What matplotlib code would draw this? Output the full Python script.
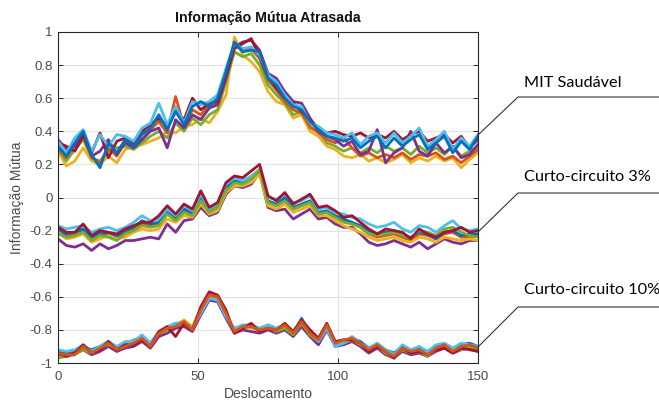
import numpy as np
import matplotlib
matplotlib.use("Agg")
import matplotlib.pyplot as plt
from matplotlib.lines import Line2D

plt.rcParams["font.family"] = ["Liberation Sans", "DejaVu Sans"]

# ---------------- data ----------------
shift = list(range(0, 151, 3))

# MATLAB default colour order
c_blue, c_orange, c_yellow = "#0072BD", "#D95319", "#EDB120"
c_purple, c_green, c_lblue, c_dred = "#7E2F8E", "#77AC30", "#4DBEEE", "#A2142F"

# Group 1: MIT Saudável
h_yellow = [0.28, 0.19, 0.22, 0.30, 0.22, 0.20, 0.25, 0.21, 0.29, 0.31,
            0.32, 0.34, 0.36, 0.40, 0.39, 0.43, 0.44, 0.48, 0.45, 0.52,
            0.62, 0.97, 0.86, 0.82, 0.76, 0.64, 0.58, 0.56, 0.48, 0.50,
            0.40, 0.37, 0.31, 0.29, 0.25, 0.24, 0.26, 0.22, 0.24, 0.21,
            0.23, 0.26, 0.21, 0.24, 0.22, 0.25, 0.22, 0.24, 0.18, 0.23,
            0.27]
h_green = [0.29, 0.22, 0.29, 0.35, 0.24, 0.22, 0.28, 0.30, 0.31, 0.29,
           0.33, 0.37, 0.40, 0.36, 0.45, 0.40, 0.48, 0.44, 0.50, 0.53,
           0.70, 0.88, 0.85, 0.87, 0.80, 0.68, 0.62, 0.57, 0.50, 0.52,
           0.42, 0.40, 0.33, 0.31, 0.28, 0.30, 0.27, 0.30, 0.27, 0.31,
           0.28, 0.30, 0.26, 0.31, 0.27, 0.30, 0.26, 0.31, 0.25, 0.28,
           0.31]
h_orange = [0.30, 0.24, 0.32, 0.39, 0.24, 0.21, 0.30, 0.25, 0.34, 0.32,
            0.35, 0.41, 0.46, 0.39, 0.61, 0.43, 0.53, 0.50, 0.56, 0.57,
            0.74, 0.92, 0.89, 0.90, 0.84, 0.71, 0.65, 0.58, 0.53, 0.51,
            0.43, 0.39, 0.35, 0.33, 0.36, 0.30, 0.25, 0.27, 0.24, 0.26,
            0.24, 0.27, 0.23, 0.26, 0.25, 0.27, 0.23, 0.25, 0.21, 0.25,
            0.29]
h_purple = [0.35, 0.29, 0.31, 0.38, 0.25, 0.28, 0.35, 0.26, 0.33, 0.30,
            0.35, 0.40, 0.42, 0.30, 0.47, 0.42, 0.50, 0.47, 0.54, 0.56,
            0.72, 0.91, 0.94, 0.95, 0.89, 0.75, 0.72, 0.64, 0.58, 0.57,
            0.48, 0.40, 0.37, 0.35, 0.31, 0.34, 0.26, 0.28, 0.41, 0.21,
            0.27, 0.30, 0.40, 0.28, 0.25, 0.33, 0.27, 0.31, 0.24, 0.26,
            0.32]
h_dred = [0.33, 0.31, 0.28, 0.37, 0.27, 0.39, 0.24, 0.34, 0.36, 0.33,
          0.40, 0.44, 0.48, 0.43, 0.52, 0.47, 0.60, 0.53, 0.57, 0.58,
          0.74, 0.90, 0.93, 0.96, 0.85, 0.73, 0.66, 0.60, 0.57, 0.52,
          0.47, 0.42, 0.39, 0.40, 0.38, 0.37, 0.39, 0.36, 0.38, 0.36,
          0.40, 0.35, 0.38, 0.40, 0.34, 0.36, 0.38, 0.33, 0.37, 0.30,
          0.35]
h_lblue = [0.34, 0.27, 0.36, 0.41, 0.28, 0.38, 0.31, 0.38, 0.37, 0.34,
           0.42, 0.45, 0.57, 0.44, 0.55, 0.45, 0.58, 0.56, 0.58, 0.62,
           0.78, 0.93, 0.90, 0.91, 0.86, 0.74, 0.70, 0.62, 0.56, 0.55,
           0.45, 0.43, 0.39, 0.38, 0.36, 0.39, 0.32, 0.37, 0.39, 0.33,
           0.39, 0.33, 0.37, 0.42, 0.31, 0.35, 0.40, 0.29, 0.36, 0.31,
           0.38]
h_blue = [0.31, 0.25, 0.33, 0.40, 0.26, 0.18, 0.33, 0.27, 0.35, 0.31,
          0.38, 0.42, 0.50, 0.41, 0.52, 0.44, 0.55, 0.58, 0.55, 0.60,
          0.76, 0.94, 0.88, 0.89, 0.88, 0.72, 0.68, 0.60, 0.55, 0.53,
          0.46, 0.41, 0.37, 0.36, 0.34, 0.36, 0.30, 0.34, 0.37, 0.30,
          0.36, 0.31, 0.35, 0.38, 0.29, 0.33, 0.37, 0.27, 0.34, 0.29,
          0.37]

# Group 2: Curto-circuito 3%
s3_purple = [-0.25, -0.29, -0.30, -0.28, -0.32, -0.28, -0.31, -0.29, -0.26, -0.26,
             -0.25, -0.24, -0.25, -0.16, -0.21, -0.14, -0.13, -0.06, -0.11, -0.09,
             0.02, 0.07, 0.06, 0.08, 0.15, -0.06, -0.08, -0.07, -0.13, -0.10,
             -0.07, -0.13, -0.12, -0.16, -0.18, -0.18, -0.22, -0.27, -0.29, -0.28,
             -0.26, -0.28, -0.30, -0.27, -0.31, -0.28, -0.25, -0.27, -0.28, -0.26,
             -0.26]
s3_orange = [-0.20, -0.23, -0.22, -0.20, -0.25, -0.22, -0.23, -0.24, -0.21, -0.19,
             -0.16, -0.17, -0.16, -0.10, -0.13, -0.08, -0.10, -0.01, -0.08, -0.06,
             0.05, 0.09, 0.09, 0.11, 0.15, -0.03, -0.05, -0.02, -0.07, -0.05,
             -0.03, -0.10, -0.09, -0.12, -0.14, -0.16, -0.18, -0.22, -0.24, -0.23,
             -0.22, -0.24, -0.26, -0.22, -0.23, -0.25, -0.22, -0.21, -0.24, -0.24,
             -0.23]
s3_blue = [-0.20, -0.22, -0.21, -0.19, -0.24, -0.21, -0.22, -0.23, -0.20, -0.18,
           -0.14, -0.16, -0.15, -0.08, -0.12, -0.07, -0.09, 0.00, -0.08, -0.05,
           0.06, 0.10, 0.09, 0.12, 0.16, -0.02, -0.04, 0.00, -0.06, -0.04,
           -0.02, -0.09, -0.08, -0.11, -0.13, -0.15, -0.17, -0.20, -0.22, -0.21,
           -0.20, -0.23, -0.24, -0.21, -0.22, -0.25, -0.21, -0.20, -0.23, -0.22,
           -0.22]
s3_yellow = [-0.21, -0.25, -0.24, -0.22, -0.27, -0.25, -0.23, -0.25, -0.24, -0.21,
             -0.19, -0.20, -0.19, -0.13, -0.15, -0.11, -0.12, -0.04, -0.10, -0.08,
             0.03, 0.07, 0.07, 0.09, 0.14, -0.05, -0.07, -0.04, -0.09, -0.07,
             -0.05, -0.11, -0.11, -0.14, -0.17, -0.19, -0.21, -0.24, -0.26, -0.25,
             -0.24, -0.26, -0.27, -0.24, -0.25, -0.27, -0.24, -0.25, -0.26, -0.25,
             -0.26]
s3_lblue = [-0.17, -0.19, -0.18, -0.17, -0.21, -0.19, -0.18, -0.20, -0.18, -0.15,
            -0.11, -0.14, -0.13, -0.07, -0.11, -0.05, -0.08, 0.02, -0.07, -0.04,
            0.08, 0.12, 0.10, 0.13, 0.17, 0.00, -0.01, 0.02, -0.03, -0.02,
            0.01, -0.07, -0.06, -0.09, -0.10, -0.12, -0.13, -0.16, -0.18, -0.17,
            -0.15, -0.19, -0.21, -0.17, -0.18, -0.21, -0.17, -0.14, -0.19, -0.20,
            -0.19]
s3_green = [-0.22, -0.24, -0.23, -0.21, -0.26, -0.23, -0.24, -0.26, -0.22, -0.20,
            -0.17, -0.18, -0.17, -0.10, -0.14, -0.09, -0.11, -0.02, -0.09, -0.06,
            0.04, 0.09, 0.08, 0.11, 0.17, -0.03, -0.05, -0.02, -0.07, -0.05,
            -0.03, -0.10, -0.09, -0.12, -0.15, -0.16, -0.18, -0.22, -0.23, -0.22,
            -0.21, -0.23, -0.25, -0.20, -0.21, -0.23, -0.19, -0.18, -0.21, -0.23,
            -0.24]
s3_dred = [-0.18, -0.21, -0.21, -0.16, -0.23, -0.20, -0.21, -0.22, -0.19, -0.17,
           -0.15, -0.15, -0.11, -0.05, -0.10, -0.04, -0.07, 0.04, -0.06, -0.03,
           0.09, 0.13, 0.12, 0.16, 0.20, 0.01, -0.02, 0.03, -0.04, -0.01,
           0.02, -0.06, -0.05, -0.08, -0.12, -0.11, -0.15, -0.19, -0.22, -0.19,
           -0.20, -0.21, -0.25, -0.19, -0.22, -0.24, -0.21, -0.20, -0.18, -0.21,
           -0.20]

# Group 3: Curto-circuito 10%
s10_blue = [-0.93, -0.94, -0.93, -0.90, -0.92, -0.90, -0.87, -0.91, -0.88, -0.87,
            -0.84, -0.88, -0.82, -0.79, -0.76, -0.76, -0.80, -0.70, -0.60, -0.61,
            -0.71, -0.80, -0.78, -0.77, -0.80, -0.78, -0.80, -0.78, -0.82, -0.73,
            -0.82, -0.86, -0.78, -0.89, -0.87, -0.85, -0.87, -0.91, -0.89, -0.92,
            -0.94, -0.90, -0.92, -0.91, -0.93, -0.90, -0.89, -0.92, -0.89, -0.88,
            -0.90]
s10_yellow = [-0.96, -0.96, -0.94, -0.91, -0.95, -0.92, -0.89, -0.93, -0.90, -0.89,
              -0.86, -0.89, -0.83, -0.80, -0.77, -0.74, -0.78, -0.67, -0.60, -0.62,
              -0.72, -0.80, -0.77, -0.79, -0.79, -0.77, -0.79, -0.78, -0.81, -0.76,
              -0.83, -0.85, -0.79, -0.87, -0.87, -0.86, -0.89, -0.93, -0.90, -0.92,
              -0.95, -0.92, -0.94, -0.93, -0.94, -0.92, -0.90, -0.92, -0.91, -0.90,
              -0.92]
s10_purple = [-0.95, -0.93, -0.94, -0.92, -0.95, -0.93, -0.90, -0.93, -0.91, -0.90,
              -0.87, -0.91, -0.84, -0.82, -0.79, -0.78, -0.81, -0.71, -0.62, -0.63,
              -0.73, -0.82, -0.80, -0.81, -0.82, -0.80, -0.82, -0.80, -0.84, -0.78,
              -0.84, -0.89, -0.80, -0.90, -0.89, -0.87, -0.90, -0.94, -0.91, -0.95,
              -0.97, -0.93, -0.95, -0.94, -0.96, -0.93, -0.91, -0.94, -0.92, -0.91,
              -0.93]
s10_green = [-0.97, -0.96, -0.95, -0.92, -0.94, -0.90, -0.89, -0.91, -0.89, -0.86,
             -0.85, -0.89, -0.82, -0.80, -0.77, -0.75, -0.79, -0.69, -0.61, -0.59,
             -0.71, -0.81, -0.79, -0.78, -0.81, -0.78, -0.81, -0.79, -0.83, -0.76,
             -0.83, -0.87, -0.79, -0.89, -0.88, -0.86, -0.89, -0.92, -0.90, -0.94,
             -0.97, -0.92, -0.94, -0.93, -0.96, -0.92, -0.90, -0.93, -0.92, -0.90,
             -0.92]
s10_lblue = [-0.92, -0.93, -0.92, -0.89, -0.93, -0.90, -0.87, -0.90, -0.87, -0.87,
             -0.83, -0.88, -0.81, -0.78, -0.76, -0.76, -0.79, -0.70, -0.61, -0.62,
             -0.72, -0.79, -0.77, -0.77, -0.79, -0.77, -0.79, -0.77, -0.81, -0.74,
             -0.81, -0.87, -0.79, -0.90, -0.88, -0.84, -0.88, -0.91, -0.88, -0.92,
             -0.95, -0.89, -0.92, -0.90, -0.93, -0.89, -0.88, -0.91, -0.88, -0.89,
             -0.90]
s10_dred = [-0.94, -0.96, -0.94, -0.89, -0.94, -0.92, -0.87, -0.92, -0.89, -0.89,
            -0.86, -0.90, -0.81, -0.78, -0.84, -0.76, -0.80, -0.66, -0.57, -0.59,
            -0.68, -0.82, -0.79, -0.76, -0.81, -0.79, -0.80, -0.76, -0.81, -0.74,
            -0.80, -0.85, -0.76, -0.87, -0.86, -0.86, -0.88, -0.93, -0.90, -0.93,
            -0.97, -0.91, -0.94, -0.93, -0.95, -0.92, -0.91, -0.94, -0.91, -0.92,
            -0.93]
s10_orange = [-0.94, -0.95, -0.95, -0.90, -0.94, -0.91, -0.88, -0.92, -0.90, -0.88,
              -0.85, -0.90, -0.82, -0.79, -0.78, -0.75, -0.80, -0.68, -0.59, -0.60,
              -0.70, -0.81, -0.78, -0.78, -0.80, -0.79, -0.80, -0.77, -0.82, -0.75,
              -0.82, -0.86, -0.77, -0.88, -0.86, -0.85, -0.88, -0.92, -0.89, -0.93,
              -0.96, -0.91, -0.93, -0.92, -0.95, -0.91, -0.89, -0.93, -0.90, -0.89,
              -0.91]

group1 = [(h_yellow, c_yellow), (h_green, c_green), (h_orange, c_orange),
          (h_purple, c_purple), (h_dred, c_dred), (h_lblue, c_lblue), (h_blue, c_blue)]
group2 = [(s3_purple, c_purple), (s3_orange, c_orange), (s3_blue, c_blue),
          (s3_yellow, c_yellow), (s3_lblue, c_lblue), (s3_green, c_green), (s3_dred, c_dred)]
group3 = [(s10_blue, c_blue), (s10_yellow, c_yellow), (s10_purple, c_purple),
          (s10_green, c_green), (s10_lblue, c_lblue), (s10_dred, c_dred), (s10_orange, c_orange)]

xticks = [0, 50, 100, 150]
yticks = [-1, -0.8, -0.6, -0.4, -0.2, 0, 0.2, 0.4, 0.6, 0.8, 1]
ytick_labels = ["-1", "-0.8", "-0.6", "-0.4", "-0.2", "0", "0.2", "0.4", "0.6", "0.8", "1"]
annotations = ["MIT Saudável", "Curto-circuito 3%", "Curto-circuito 10%"]

# ---------------- plot ----------------
W, H = 659, 401
fig = plt.figure(figsize=(W / 100, H / 100), dpi=100)
ax = fig.add_axes([58 / W, 1 - 363 / H, 420 / W, 331 / H])

for grp in (group1, group2, group3):
    for vals, col in grp:
        ax.plot(shift, vals, color=col, lw=2.0, solid_joinstyle="round")

ax.set_xlim(0, 150)
ax.set_ylim(-1, 1)
ax.set_xticks(xticks)
ax.set_yticks(yticks)
ax.set_yticklabels(ytick_labels)
ax.grid(True, color="#e3e3e3", lw=0.8)
ax.set_axisbelow(True)
txtc = "#4a4a4a"
ax.tick_params(direction="in", length=3.5, width=0.7, colors="#262626",
               labelcolor=txtc, labelsize=9.5, top=True, right=True)
ax.tick_params(axis="x", pad=6)
ax.tick_params(axis="y", pad=4)
for sp in ax.spines.values():
    sp.set_color("#262626")
    sp.set_linewidth(0.8)

ax.set_title("Informação Mútua Atrasada", fontsize=10.2, fontweight="bold",
             pad=7, color="#111111")
ax.set_xlabel("Deslocamento", fontsize=10, color=txtc, labelpad=3)
ax.set_ylabel("Informação Mútua", fontsize=10, color=txtc, labelpad=4)

# annotation callouts (figure pixel coordinates)
def fp(px, py):
    return px / W, 1 - py / H

callouts = [((478, 135), (518, 97), 83),
            ((478, 232), (518, 193), 177),
            ((478, 347), (518, 307), 290)]
for (p0, p1, ty), label in zip(callouts, annotations):
    x0, y0 = fp(*p0)
    x1, y1 = fp(*p1)
    x2, _ = fp(659, 0)
    fig.add_artist(Line2D([x0, x1, x2], [y0, y1, y1], transform=fig.transFigure,
                          color="#333333", lw=0.8))
    tx, tyf = fp(524, ty)
    fig.text(tx, tyf, label, fontsize=11.7, family="Lato", color="#000000",
             ha="left", va="center")

fig.savefig("out.png", dpi=100)
